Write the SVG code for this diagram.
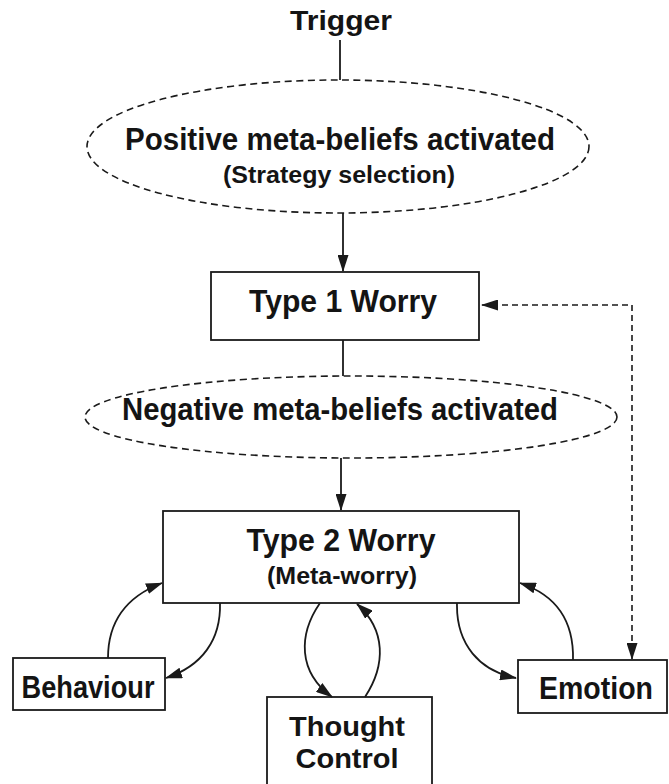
<svg xmlns="http://www.w3.org/2000/svg" width="669" height="784" viewBox="0 0 669 784">
<style>
text{font-family:"Liberation Sans",Arial,sans-serif;font-weight:bold;fill:#141414;text-anchor:middle}
.box{fill:none;stroke:#1a1a1a;stroke-width:1.8}
.ell{fill:none;stroke:#1a1a1a;stroke-width:1.6;stroke-dasharray:7 4.5}
.ln{fill:none;stroke:#1a1a1a;stroke-width:1.8}
.dash{fill:none;stroke:#1a1a1a;stroke-width:1.6;stroke-dasharray:6 4}
.big{font-size:31px}
.sub{font-size:24px}
.tc{font-size:28px}
</style>
<defs>
<marker id="ah" markerUnits="userSpaceOnUse" markerWidth="17" markerHeight="11" viewBox="0 0 17 11" refX="16" refY="5.5" orient="auto-start-reverse">
<path d="M0,0 L17,5.5 L0,11 Z" fill="#1a1a1a"/>
</marker>
</defs>
<g id="connectors">
<line class="ln" x1="340" y1="40" x2="340" y2="80"/>
<line class="ln" x1="343" y1="213" x2="343" y2="271" marker-end="url(#ah)"/>
<line class="ln" x1="343" y1="340" x2="343" y2="376"/>
<line class="ln" x1="341" y1="458" x2="341" y2="510" marker-end="url(#ah)"/>
<path class="dash" d="M482,305 L632,305 L632,659" marker-start="url(#ah)" marker-end="url(#ah)"/>
<path class="ln" d="M108,658 C108,620 128,596 162,583" marker-end="url(#ah)"/>
<path class="ln" d="M220,603 C221,640 202,666 166,678" marker-end="url(#ah)"/>
<path class="ln" d="M320,603 C298,635 298,672 332,697" marker-end="url(#ah)"/>
<path class="ln" d="M365,697 C386,665 386,630 357,604" marker-end="url(#ah)"/>
<path class="ln" d="M457,603 C456,645 480,671 516,678" marker-end="url(#ah)"/>
<path class="ln" d="M573,660 C574,620 556,595 520,583" marker-end="url(#ah)"/>
</g>
<g id="trigger">
<text x="341" y="30" font-size="27" textLength="102" lengthAdjust="spacingAndGlyphs">Trigger</text>
</g>
<g id="positive">
<ellipse class="ell" cx="338" cy="146.5" rx="251" ry="66.5"/>
<text class="big" x="340" y="150" textLength="430" lengthAdjust="spacingAndGlyphs">Positive meta-beliefs activated</text>
<text class="sub" x="339" y="183" textLength="232" lengthAdjust="spacingAndGlyphs">(Strategy selection)</text>
</g>
<g id="type1">
<rect class="box" x="211" y="272" width="268" height="68"/>
<text class="big" x="343" y="312" textLength="188" lengthAdjust="spacingAndGlyphs">Type 1 Worry</text>
</g>
<g id="negative">
<ellipse class="ell" cx="351" cy="417" rx="266" ry="41"/>
<text class="big" x="340" y="420" textLength="436" lengthAdjust="spacingAndGlyphs">Negative meta-beliefs activated</text>
</g>
<g id="type2">
<rect class="box" x="163" y="511" width="356" height="92"/>
<text class="big" x="341" y="551" textLength="189" lengthAdjust="spacingAndGlyphs">Type 2 Worry</text>
<text class="sub" x="342" y="584" font-size="22" textLength="150" lengthAdjust="spacingAndGlyphs">(Meta-worry)</text>
</g>
<g id="behaviour">
<rect class="box" x="13" y="658" width="152" height="52"/>
<text class="big" x="88" y="698" textLength="133" lengthAdjust="spacingAndGlyphs">Behaviour</text>
</g>
<g id="thought">
<rect class="box" x="267" y="697" width="165" height="95"/>
<text class="tc" x="347" y="736" textLength="116" lengthAdjust="spacingAndGlyphs">Thought</text>
<text class="tc" x="347" y="768" textLength="103" lengthAdjust="spacingAndGlyphs">Control</text>
</g>
<g id="emotion">
<rect class="box" x="518" y="660" width="149" height="53"/>
<text class="big" x="596" y="699" textLength="114" lengthAdjust="spacingAndGlyphs">Emotion</text>
</g>
</svg>
